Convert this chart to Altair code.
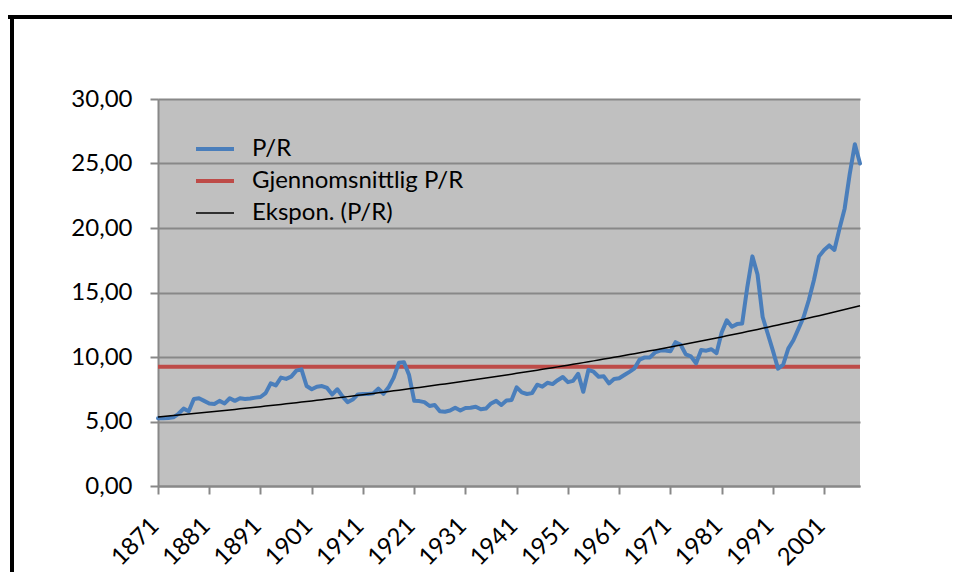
import altair as alt
import numpy as np
import pandas as pd

# ---- data ----
YEARS = list(range(1871, 2009))
PR = [
    5.25, 5.25, 5.27, 5.32, 5.6, 6.0, 5.8, 6.75, 6.8, 6.6,          # 1871-1880
    6.4, 6.36, 6.6, 6.4, 6.8, 6.6, 6.8, 6.75, 6.78, 6.85,           # 1881-1890
    6.9, 7.2, 7.96, 7.8, 8.4, 8.3, 8.48, 8.94, 9.04, 7.75,          # 1891-1900
    7.5, 7.7, 7.75, 7.6, 7.1, 7.5, 6.95, 6.5, 6.7, 7.1,             # 1901-1910
    7.13, 7.13, 7.18, 7.55, 7.15, 7.65, 8.4, 9.55, 9.6, 8.6,        # 1911-1920
    6.6, 6.58, 6.5, 6.2, 6.28, 5.8, 5.76, 5.85, 6.07, 5.85,         # 1921-1930
    6.05, 6.07, 6.15, 5.95, 6.0, 6.4, 6.6, 6.28, 6.62, 6.67,        # 1931-1940
    7.65, 7.26, 7.13, 7.2, 7.85, 7.7, 8.0, 7.9, 8.2, 8.45,          # 1941-1950
    8.05, 8.15, 8.7, 7.3, 9.0, 8.86, 8.47, 8.5, 7.95, 8.3,          # 1951-1960
    8.35, 8.6, 8.85, 9.12, 9.8, 9.97, 9.97, 10.35, 10.5, 10.5,      # 1961-1970
    10.45, 11.15, 10.95, 10.2, 10.05, 9.5, 10.54, 10.49, 10.6, 10.3,  # 1971-1980
    11.9, 12.85, 12.35, 12.55, 12.6, 15.4, 17.8, 16.4, 13.1, 11.8,  # 1981-1990
    10.5, 9.1, 9.4, 10.65, 11.3, 12.2, 13.1, 14.4, 15.95, 17.8,     # 1991-2000
    18.3, 18.65, 18.3, 19.95, 21.5, 24.2, 26.5, 25.0,               # 2001-2008
]
AVG_PR = 9.25
SERIES = ["P/R", "Gjennomsnittlig P/R", "Ekspon. (P/R)"]
COLORS = ["#4A7EBB", "#BE4B48", "#000000"]
X_TICKS = list(range(1871, 2002, 10))
Y_TICKS = [0, 5, 10, 15, 20, 25, 30]

# exponential trend (least squares on log values, as a spreadsheet does)
coef = np.polyfit(YEARS, np.log(PR), 1)
TREND = list(np.exp(np.polyval(coef, YEARS)))

df = pd.concat([
    pd.DataFrame({"year": YEARS, "value": PR, "series": SERIES[0]}),
    pd.DataFrame({"year": YEARS, "value": [AVG_PR] * len(YEARS), "series": SERIES[1]}),
    pd.DataFrame({"year": YEARS, "value": TREND, "series": SERIES[2]}),
])

FONT = "Lato"
FS = 24

x = alt.X(
    "year:Q",
    scale=alt.Scale(domain=[1871, 2008], nice=False, zero=False),
    axis=alt.Axis(
        values=X_TICKS, format="d", title=None, grid=False,
        labelAngle=-45, labelAlign="right", labelBaseline="middle",
        labelPadding=28, labelOffset=-3, labelFont=FONT, labelFontSize=FS,
        labelColor="black", tickSize=8, tickWidth=2, tickColor="#888888",
        domainColor="#888888", domainWidth=2, labelOverlap=False,
    ),
)
y = alt.Y(
    "value:Q",
    scale=alt.Scale(domain=[0, 30], nice=False),
    axis=alt.Axis(
        values=Y_TICKS, title=None, grid=True, gridColor="#888888", gridWidth=2,
        labelExpr="replace(format(datum.value, '.2f'), '.', ',')",
        labelFont=FONT, labelFontSize=FS, labelColor="black", labelPadding=18,
        tickSize=8, tickWidth=2, tickColor="#888888",
        domainColor="#888888", domainWidth=2,
    ),
)
color = alt.Color(
    "series:N",
    scale=alt.Scale(domain=SERIES, range=COLORS),
    legend=alt.Legend(
        title=None, orient="none", legendX=38, legendY=35,
        symbolType="stroke", symbolSize=2704,
        symbolStrokeWidth=alt.ExprRef(expr="datum.value === 'Ekspon. (P/R)' ? 1.5 : 4"),
        labelFont=FONT, labelFontSize=FS, labelColor="black", labelOffset=32,
        labelLimit=400, clipHeight=30, rowPadding=2, padding=0,
    ),
)

base = alt.Chart(df).encode(x=x, y=y, color=color)
avg_line = base.transform_filter(alt.datum.series == SERIES[1]).mark_line(
    strokeWidth=4, strokeCap="butt")
pr_line = base.transform_filter(alt.datum.series == SERIES[0]).mark_line(
    strokeWidth=4, strokeJoin="round", strokeCap="round")
trend_line = base.transform_filter(alt.datum.series == SERIES[2]).mark_line(
    strokeWidth=1.5)

# outer chart frame (top and left edges; the others lie outside the picture)
one = alt.Chart(pd.DataFrame({"a": [0]}))
frame_top = one.mark_rule(stroke="black", strokeWidth=4, clip=False).encode(
    x=alt.value(-150), x2=alt.value(2000), y=alt.value(-82))
frame_left = one.mark_rule(stroke="black", strokeWidth=4, clip=False).encode(
    x=alt.value(-146), y=alt.value(-84), y2=alt.value(1000))

chart = alt.layer(avg_line, pr_line, trend_line, frame_top, frame_left).properties(
    width=702, height=387,
    padding={"left": 150, "top": 91, "right": 92, "bottom": 86},
    autosize=alt.AutoSizeParams(type="none"),
    background="white",
).configure_view(fill="#C0C0C0", strokeWidth=0)

chart.save("out.html", embed_options={"renderer": "svg", "actions": False})
